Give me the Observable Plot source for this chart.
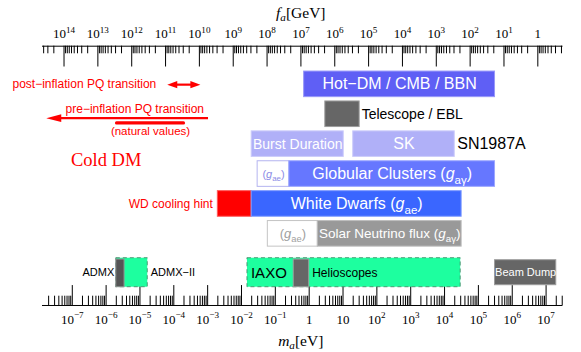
<!DOCTYPE html>
<html><head><meta charset="utf-8">
<script src="https://cdn.jsdelivr.net/npm/d3@7"></script>
<script src="https://cdn.jsdelivr.net/npm/@observablehq/plot@0.6"></script>
<style>body{margin:0;background:#fff}svg{display:block}</style>
</head><body><div id="chart"></div>
<script>
// ---------- DATA ----------
// bottom axis: axion mass m_a [eV]
const massExponents = [-7,-6,-5,-4,-3,-2,-1,0,1,2,3,4,5,6,7];
const massTickLabels = ["10^{−7}","10^{−6}","10^{−5}","10^{−4}","10^{−3}","10^{−2}","10^{−1}","1","10","10^{2}","10^{3}","10^{4}","10^{5}","10^{6}","10^{7}"];
// top axis: decay constant f_a [GeV]
const faExponents = [14,13,12,11,10,9,8,7,6,5,4,3,2,1,0];
const faTickLabels = ["10^{14}","10^{13}","10^{12}","10^{11}","10^{10}","10^{9}","10^{8}","10^{7}","10^{6}","10^{5}","10^{4}","10^{3}","10^{2}","10^{1}","1"];
const faTimesMa = 5.7e6; // f_a[GeV] * m_a[eV]

// exclusion / sensitivity ranges in m_a [eV]
const boxNames = ["Hot-DM","Telescope","Burst","SK","GC-gae","GC","WD-hint","WD","Solar-gae","Solar","Helioscopes","ADMX-II","CAST","ADMX","BeamDump"];
const boxLo    = [0.71, 3.0, 0.020, 20, 0.030, 0.26, 0.0020, 0.020, 0.060, 1.8, 0.015, 2.0e-6, 0.35, 2.0e-6, 3.1e5];
const boxHi    = [3.1e5, 31, 10.5, 2.0e4, 0.26, 3.1e5, 0.020, 3.2e4, 1.8, 3.2e4, 3.0e4, 1.7e-5, 1.0, 3.5e-6, 2.0e7];
const boxRow   = [1, 2, 3, 3, 4, 4, 5, 5, 6, 6, 7, 7, 7, 7, 7];
const boxText  = ["Hot−DM / CMB / BBN","","Burst Duration","SK","($g$_{ae})","Globular Clusters ($g$_{aγ})","","White Dwarfs ($g$_{ae})","($g$_{ae})","Solar Neutrino flux ($g$_{aγ})","","","","","Beam Dump"];

// labels placed beside a box
const sideText = ["Telescope / EBL","SN1987A","WD cooling hint","IAXO","Helioscopes","ADMX","ADMX−II"];
const sideBox  = ["Telescope","SK","WD-hint","Helioscopes","CAST","ADMX","ADMX-II"];

// cosmology annotations (m_a in eV)
const postInflation = [6.4e-5, 6.1e-4];
const preInflation  = [1.7e-8, 1.06e-3];
const naturalValues = [2.1e-6, 2.0e-4];
const coldDMMass = 1.0e-6;

// ---------- STYLE / LAYOUT ----------
const SANS = "Liberation Sans, Arial, Helvetica, sans-serif";
const SERIF = "Liberation Serif, Times New Roman, serif";
const RED = "#ff0000";
const Y = {faTitle:-1.39, faLabels:-0.684, topAxis:-0.276, topMinor:-0.022, topMajor:0.42,
  botMajor:7.73, botMinor:8.085, botAxis:8.396, maLabels:8.868, maTitle:9.57,
  post:1.01, pre:1.84, preArrow:2.13, natural:2.29, naturalText:2.577, coldDM:3.52};
const rowY = r => r === 7 ? 7.3 : r;
const boxStyle = {
  "Hot-DM":{fill:"#5f5ff5"}, "Telescope":{fill:"#666666"}, "Burst":{fill:"#b0b0f8"}, "SK":{fill:"#b0b0f8"},
  "GC-gae":{fill:"#ffffff", stroke:"#b4b4f0"}, "GC":{fill:"#6677ff"},
  "WD-hint":{fill:"#ff0000"}, "WD":{fill:"#3a66ff"},
  "Solar-gae":{fill:"#ffffff", stroke:"#c4c4c4"}, "Solar":{fill:"#999999"},
  "Helioscopes":{fill:"#1dff9f", half:0.485, dashed:true}, "ADMX-II":{fill:"#1dff9f", half:0.485, dashed:true},
  "CAST":{fill:"#666666", top:0.44, half:0.485}, "ADMX":{fill:"#555555", top:0.44, half:0.485},
  "BeamDump":{fill:"#666666", half:0.418}
};
const textStyle = {
  "Hot-DM":{size:16, color:"#fff"}, "Burst":{size:14, color:"#fff"}, "SK":{size:16, color:"#fff"},
  "GC-gae":{size:11, color:"#8c8ce6"}, "GC":{size:16, color:"#fff"}, "WD":{size:16, color:"#fff"},
  "Solar-gae":{size:13, color:"#a0a0a0"}, "Solar":{size:13.5, color:"#fff"}, "BeamDump":{size:11, color:"#fff"}
};
const sideStyle = {
  "Telescope / EBL":{size:14, color:"#000", anchor:"start", dx:2},
  "SN1987A":{size:16, color:"#000", anchor:"start", dx:2.5},
  "WD cooling hint":{size:12, color:RED, anchor:"end", dx:-5},
  "IAXO":{size:15, color:"#000", anchor:"start", dx:3.5, inside:true},
  "Helioscopes":{size:12, color:"#000", anchor:"start", dx:3},
  "ADMX":{size:11, color:"#000", anchor:"end", dx:-2},
  "ADMX−II":{size:11, color:"#000", anchor:"start", dx:3}
};

const boxes = boxNames.map((name, i) => {
  const s = boxStyle[name], c = rowY(boxRow[i]);
  return {name, lo: boxLo[i], hi: boxHi[i], text: boxText[i],
    y1: c - (s.top ?? s.half ?? 0.428), y2: c + (s.half ?? 0.428), yc: c};
});
const byName = Object.fromEntries(boxes.map(b => [b.name, b]));
const lighter = c => c === "#ffffff" ? c : d3.interpolateRgb(c, "#ffffff")(0.35);

// ticks
const majorMass = massExponents.map(k => 10 ** k);
const minorMass = d3.range(-8, 8).flatMap(k => d3.range(2, 10).map(d => d * 10 ** k));
const majorFa = faExponents.map(k => faTimesMa / 10 ** k);
const minorFa = d3.range(-1, 15).flatMap(k => d3.range(2, 10).map(d => faTimesMa / (d * 10 ** k)));
const xDomain = [10 ** -7.88, 10 ** 7.5];
const inDom = m => m >= xDomain[0] && m <= xDomain[1];

// arrowhead symbols
const head = (dir, L, h) => ({draw(ctx) { ctx.moveTo(0, 0); ctx.lineTo(-dir * L, -h); ctx.lineTo(-dir * L, h); ctx.closePath(); }});

const sideData = sideText.map((t, i) => {
  const b = byName[sideBox[i]], s = sideStyle[t];
  let x;
  if (s.inside) x = b.lo; else x = s.anchor === "start" ? b.hi : b.lo;
  return {t, x, y: b.yc, ...s};
});

const marks = [
  // axes
  Plot.ruleY([Y.topAxis], {stroke: "#000", strokeWidth: 1}),
  Plot.ruleY([Y.botAxis], {stroke: "#000", strokeWidth: 1}),
  Plot.ruleX(majorFa.filter(inDom), {y1: Y.topAxis, y2: Y.topMajor, stroke: "#000"}),
  Plot.ruleX(minorFa.filter(inDom), {y1: Y.topAxis, y2: Y.topMinor, stroke: "#000"}),
  Plot.ruleX(majorMass.filter(inDom), {y1: Y.botMajor, y2: Y.botAxis, stroke: "#000"}),
  Plot.ruleX(minorMass.filter(inDom), {y1: Y.botMinor, y2: Y.botAxis, stroke: "#000"}),
  Plot.text(faExponents, {x: k => faTimesMa / 10 ** k, y: () => Y.faLabels, text: (k, i) => faTickLabels[i], fontFamily: SERIF, fontSize: 13, fill: "#000"}),
  Plot.text(massExponents, {x: k => 10 ** k, y: () => Y.maLabels, text: (k, i) => massTickLabels[i], fontFamily: SERIF, fontSize: 13, fill: "#000"}),
  Plot.text(["$f$_i{a}[GeV]"], {y: () => Y.faTitle, frameAnchor: "middle", fontFamily: SERIF, fontSize: 15.5, fill: "#000", dx: -2}),
  Plot.text(["$m$_i{a}[eV]"], {y: () => Y.maTitle, frameAnchor: "middle", fontFamily: SERIF, fontSize: 15.5, fill: "#000", dx: -2}),
  // boxes
  Plot.rect(boxes.filter(b => boxStyle[b.name].dashed), {x1: "lo", x2: "hi", y1: "y1", y2: "y2",
    fill: d => boxStyle[d.name].fill, stroke: "#3f8a66", strokeWidth: 1, strokeDasharray: "4,3", strokeOpacity: 0.85}),
  Plot.rect(boxes.filter(b => !boxStyle[b.name].dashed), {x1: "lo", x2: "hi", y1: "y1", y2: "y2",
    fill: d => boxStyle[d.name].fill, stroke: d => boxStyle[d.name].stroke ?? lighter(boxStyle[d.name].fill), strokeWidth: 1}),
  // in-box labels
  ...boxes.filter(b => b.text).map(b => Plot.text([b], {
    x: d => Math.sqrt(d.lo * d.hi), y: "yc", text: "text", fontFamily: SANS,
    fontSize: textStyle[b.name].size, fill: textStyle[b.name].color})),
  // side labels
  ...sideData.map(d => Plot.text([d], {x: "x", y: "y", text: "t", fontFamily: SANS, fontSize: d.size,
    fill: d.color, textAnchor: d.anchor, dx: d.dx})),
  // cosmology annotations
  Plot.ruleY([Y.post], {x1: () => postInflation[0], x2: () => postInflation[1], stroke: RED, strokeWidth: 2.2, insetLeft: 8, insetRight: 8}),
  Plot.dot([postInflation[0]], {x: d => d, y: () => Y.post, symbol: head(-1, 10, 3.6), r: 3, fill: RED, stroke: null}),
  Plot.dot([postInflation[1]], {x: d => d, y: () => Y.post, symbol: head(1, 10, 3.6), r: 3, fill: RED, stroke: null}),
  Plot.text(["post−inflation PQ transition"], {x: () => postInflation[0], y: () => Y.post, textAnchor: "end", dx: -11, fontFamily: SANS, fontSize: 12, fill: RED}),
  Plot.ruleY([Y.preArrow], {x1: () => preInflation[0], x2: () => preInflation[1], stroke: RED, strokeWidth: 2.3, insetLeft: 12}),
  Plot.dot([preInflation[0]], {x: d => d, y: () => Y.preArrow, symbol: head(-1, 15, 3.8), r: 3, fill: RED, stroke: null}),
  Plot.text(["pre−inflation PQ transition"], {x: () => preInflation[1], y: () => Y.pre, textAnchor: "end", dx: -4.5, fontFamily: SANS, fontSize: 12, fill: RED}),
  Plot.ruleY([Y.natural], {x1: () => naturalValues[0], x2: () => naturalValues[1], stroke: RED, strokeWidth: 3.2, strokeLinecap: "round"}),
  Plot.text(["(natural values)"], {x: () => Math.sqrt(naturalValues[0] * naturalValues[1]), y: () => Y.naturalText, fontFamily: SANS, fontSize: 11.5, fill: RED}),
  Plot.text(["Cold DM"], {x: () => coldDMMass, y: () => Y.coldDM, fontFamily: SERIF, fontSize: 18.5, fill: RED})
];

const chart = Plot.plot({
  width: 581, height: 352,
  marginLeft: 42, marginRight: 18.5, marginTop: 0, marginBottom: 0,
  x: {type: "log", domain: xDomain, range: [42, 562.5], axis: null},
  y: {type: "linear", domain: [0, 10], range: [53.95, 352.95], axis: null},
  style: {background: "#fff", overflow: "visible"},
  marks
});
document.getElementById("chart").appendChild(chart);

// rich text: ^{sup}, _{sub}, _i{italic sub}, $italic$
function richify(svg) {
  const ns = "http://www.w3.org/2000/svg";
  svg.querySelectorAll("text").forEach(t => {
    const s = t.textContent;
    if (!/[\^_$]/.test(s)) return;
    const fs = parseFloat(getComputedStyle(t).fontSize) || 12;
    const re = /\^\{([^}]*)\}|_i\{([^}]*)\}|_\{([^}]*)\}|\$([^$]*)\$|([^\^_$]+)/g;
    while (t.firstChild) t.removeChild(t.firstChild);
    let shift = 0, m;
    while ((m = re.exec(s))) {
      const ts = document.createElementNS(ns, "tspan");
      let target = 0, size = null, italic = false, txt;
      if (m[1] != null) { txt = m[1]; target = -0.42 * fs; size = 0.7 * fs; }
      else if (m[2] != null) { txt = m[2]; target = 0.2 * fs; size = 0.72 * fs; italic = true; }
      else if (m[3] != null) { txt = m[3]; target = 0.28 * fs; size = 0.72 * fs; }
      else if (m[4] != null) { txt = m[4]; italic = true; }
      else txt = m[5];
      const dy = target - shift;
      if (dy) ts.setAttribute("dy", dy.toFixed(2));
      shift = target;
      if (size) ts.setAttribute("font-size", size.toFixed(2));
      if (italic) ts.setAttribute("font-style", "italic");
      ts.textContent = txt;
      t.appendChild(ts);
    }
  });
}
richify(chart);
</script>
</body></html>
